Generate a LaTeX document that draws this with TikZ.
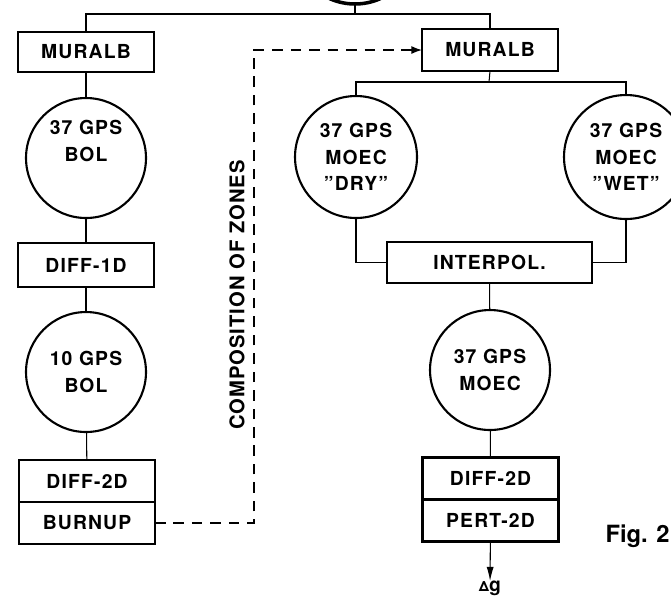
\documentclass[tikz,border=0pt]{standalone}
\usepackage{fontspec}
\setmainfont{TeX Gyre Heros}
\usetikzlibrary{arrows.meta, positioning}

\begin{document}
\begin{tikzpicture}[x=0.02cm,y=-0.02cm,
  font=\fontsize{11}{15}\selectfont\bfseries\addfontfeature{LetterSpace=6},
  code/.style={draw, line width=1.2pt, outer sep=0pt, inner sep=0pt,
    minimum width=2.72cm, minimum height=0.84cm},
  grp/.style={draw, circle, line width=1.2pt, outer sep=0pt, inner sep=0pt,
    minimum size=2.4cm, align=center},
  link/.style={line width=0.6pt},
  feed/.style={line width=0.8pt, dash pattern=on 6pt off 4.5pt,
    -{Latex[length=6pt,width=4.5pt]}}]
  \path[use as bounding box, clip] (0,0) rectangle (671,600);
  % source cell, cut off by the page edge
  \node[grp, minimum size=2.48cm, line width=2pt] (src) at (355,-58) {};
  \coordinate (split) at (355,14);
  % left chain: fuel depletion
  \node[code, minimum height=0.8cm] (muralbA) at (86,52) {MURALB};
  \node[grp] (bolA) at (86,158) {37 GPS\\BOL\\\strut};
  \node[code, minimum height=0.88cm] (diffA) at (86,265) {DIFF-1D};
  \node[grp] (bolB) at (86,372) {10 GPS\\BOL};
  \node[code] (diffB) at (87,481) {DIFF-2D};
  \node[code, below=0pt of diffB] (burnup) {BURNUP};
  % right chain: moderator states
  \node[code] (muralbB) at (490,50) {MURALB};
  \coordinate (fork) at (489,82);
  \node[grp, minimum size=2.44cm] (dry) at (356,157) {37 GPS\\MOEC\\"DRY"};
  \node[grp, minimum size=2.48cm] (wet) at (626,157) {37 GPS\\MOEC\\"WET"};
  \node[code, minimum width=4.1cm, minimum height=0.82cm] (interp) at (489.5,262.5) {INTERPOL.};
  \node[grp] (moec) at (490,370) {37 GPS\\MOEC};
  \node[code] (diffC) at (490.5,478.5) {DIFF-2D};
  \node[code, below=0pt of diffC] (pert) {PERT-2D};
  \node[inner sep=0pt, anchor=north] (drho) at (490,581) {{\fontsize{8}{8}\selectfont Δ}g};
  \node[font=\fontsize{13.5}{16}\selectfont\bfseries, inner sep=0pt, anchor=east] (fig) at (670,536) {Fig. 2};
  % feedback of the burnt zones
  \node[rotate=90, font=\fontsize{11.5}{14}\selectfont\bfseries\addfontfeature{LetterSpace=5}] (zones) at (237,295) {COMPOSITION OF ZONES};
  \coordinate (bend) at (254,50);
  % connectors
  \draw[link] (src.south) -- (split);
  \draw[link] (muralbA.north) |- (split) -| (muralbB.north);
  \draw[link] (muralbA) -- (bolA);
  \draw[link] (bolA) -- (diffA);
  \draw[link] (diffA) -- (bolB);
  \draw[link] (bolB) -- (diffB);
  \draw[link] (muralbB.south) -- (fork);
  \draw[link] (dry.north) |- (fork) -| (wet.north);
  \draw[link] (dry.south) |- (interp.west);
  \draw[link] (wet.south) |- (interp.east);
  \draw[link] (interp) -- (moec);
  \draw[link] (moec) -- (diffC);
  \draw[link, -{Latex[length=8pt,width=4pt]}] (pert) -- (drho);
  \draw[feed] (burnup.east) -| (bend) -- (muralbB.west);
\end{tikzpicture}
\end{document}
